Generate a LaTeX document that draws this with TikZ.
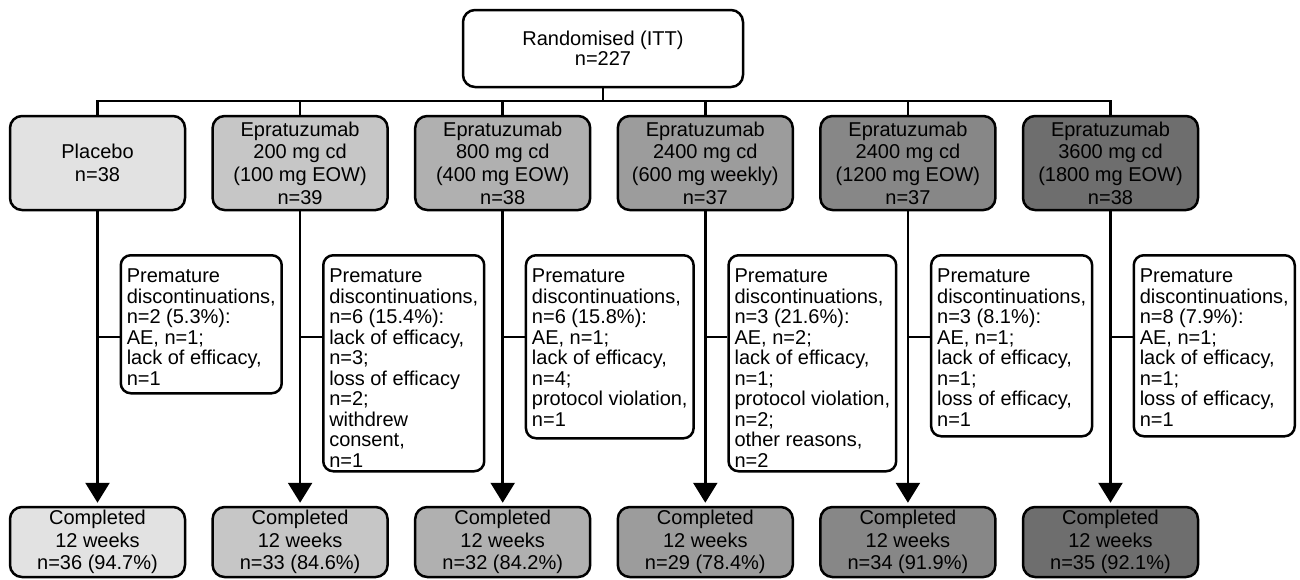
\documentclass[tikz,border=0pt]{standalone}
\usepackage{fontspec}
\setmainfont{Liberation Sans}
\usetikzlibrary{arrows.meta}
\definecolor{g1}{HTML}{E2E2E2}
\definecolor{g2}{HTML}{C6C6C6}
\definecolor{g3}{HTML}{B0B0B0}
\definecolor{g4}{HTML}{9C9C9C}
\definecolor{g5}{HTML}{878787}
\definecolor{g6}{HTML}{6E6E6E}
\newcommand{\topstrut}{\rule{0pt}{27.5pt}}
\newcommand{\botstrut}[1]{\rule[-#1pt]{0pt}{#1pt}}
\begin{document}
\begin{tikzpicture}[x=1pt,y=-1pt, line width=2.5pt,
  box/.style={draw, rounded corners=12pt, align=center, inner sep=0pt,
              font=\fontsize{20}{22.7}\selectfont},
  arm/.style={box, minimum width=175pt, minimum height=94pt},
  done/.style={box, minimum width=175pt, minimum height=70pt, font=\fontsize{20}{22.5}\selectfont},
  dbox/.style={draw, rounded corners=10pt, anchor=north west, align=left,
               inner xsep=6pt, inner ysep=0pt, fill=white,
               font=\fontsize{20}{20.5}\selectfont},
  arr/.style={-{Triangle[length=20pt,width=24pt]}, shorten >=3pt}]
\useasboundingbox (0,0) rectangle (1300,579);

\node[box, minimum width=280pt, minimum height=77pt, font=\fontsize{20}{20}\selectfont]
  (rand) at (603,48.5) {Randomised (ITT)\\n=227};
\coordinate (bar) at (603,101);

\node[arm, fill=g1] (a1) at (97.5,163)  {Placebo\\n=38};
\node[arm, fill=g2] (a2) at (300.1,163) {Epratuzumab\\200 mg cd\\(100 mg EOW)\\n=39};
\node[arm, fill=g3] (a3) at (502.7,163) {Epratuzumab\\800 mg cd\\(400 mg EOW)\\n=38};
\node[arm, fill=g4] (a4) at (705.3,163) {Epratuzumab\\2400 mg cd\\(600 mg weekly)\\n=37};
\node[arm, fill=g5] (a5) at (907.9,163) {Epratuzumab\\2400 mg cd\\(1200 mg EOW)\\n=37};
\node[arm, fill=g6] (a6) at (1110.5,163) {Epratuzumab\\3600 mg cd\\(1800 mg EOW)\\n=38};

\node[done, fill=g1] (c1) at (97.5,542)  {Completed\\12 weeks\\n=36 (94.7\%)};
\node[done, fill=g2] (c2) at (300.1,542) {Completed\\12 weeks\\n=33 (84.6\%)};
\node[done, fill=g3] (c3) at (502.7,542) {Completed\\12 weeks\\n=32 (84.2\%)};
\node[done, fill=g4] (c4) at (705.3,542) {Completed\\12 weeks\\n=29 (78.4\%)};
\node[done, fill=g5] (c5) at (907.9,542) {Completed\\12 weeks\\n=34 (91.9\%)};
\node[done, fill=g6] (c6) at (1110.5,542) {Completed\\12 weeks\\n=35 (92.1\%)};

\draw (rand.south) -- (bar);
\draw (a1.north) -- (a1.north |- bar) -- (a6.north |- bar) -- (a6.north);
\foreach \i in {2,3,4,5} { \draw (a\i.north) -- (a\i.north |- bar); }
\foreach \i in {1,...,6} { \draw[arr] (a\i.south) -- (c\i.north); }

\node[dbox] (d1) at (119.5,254) {\topstrut Premature\\discontinuations,\\n=2 (5.3\%):\\AE, n=1;\\lack of efficacy,\\n=1\botstrut{8}};
\node[dbox] (d2) at (322,254) {\topstrut Premature\\discontinuations,\\n=6 (15.4\%):\\lack of efficacy,\\n=3;\\loss of efficacy\\n=2;\\withdrew\\consent,\\n=1\botstrut{4}};
\node[dbox] (d3) at (524.7,254) {\topstrut Premature\\discontinuations,\\n=6 (15.8\%):\\AE, n=1;\\lack of efficacy,\\n=4;\\protocol violation,\\n=1\botstrut{12}};
\node[dbox] (d4) at (727.3,254) {\topstrut Premature\\discontinuations,\\n=3 (21.6\%):\\AE, n=2;\\lack of efficacy,\\n=1;\\protocol violation,\\n=2;\\other reasons,\\n=2\botstrut{4}};
\node[dbox] (d5) at (929.9,254) {\topstrut Premature\\discontinuations,\\n=3 (8.1\%):\\AE, n=1;\\lack of efficacy,\\n=1;\\loss of efficacy,\\n=1\botstrut{10}};
\node[dbox] (d6) at (1132.5,254) {\topstrut Premature\\discontinuations,\\n=8 (7.9\%):\\AE, n=1;\\lack of efficacy,\\n=1;\\loss of efficacy,\\n=1\botstrut{10}};

\foreach \i in {1,...,6} {
  \coordinate (k\i) at (a\i.south |- 0,337);
  \draw (k\i) -- (k\i -| d\i.west);
}
\end{tikzpicture}
\end{document}
